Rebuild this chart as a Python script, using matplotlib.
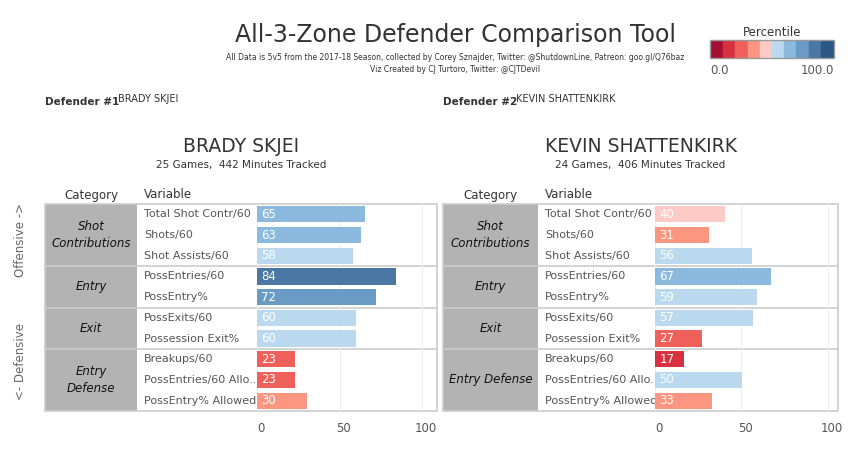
import numpy as np
import matplotlib.pyplot as plt
from matplotlib.patches import Rectangle

plt.rcParams["font.family"] = "DejaVu Sans"

variables = ["Total Shot Contr/60", "Shots/60", "Shot Assists/60", "PossEntries/60",
             "PossEntry%", "PossExits/60", "Possession Exit%", "Breakups/60",
             "PossEntries/60 Allo..", "PossEntry% Allowed"]
var_right_last = ["PossEntries/60 Allo..", "PossEntry% Allowed"]
categories = ["Shot\nContributions", "Entry", "Exit", "Entry\nDefense"]
categories_right = ["Shot\nContributions", "Entry", "Exit", "Entry Defense"]
group_sizes = [3, 2, 2, 3]
skjei = [65.2, 63.1, 58.4, 84.0, 72.0, 59.7, 59.7, 23.0, 23.0, 30.0]
shattenkirk = [40.3, 31.0, 56.0, 67.0, 59.0, 57.0, 27.0, 17.0, 50.2, 33.0]
bin_colors = ["#a50f33", "#d7303f", "#f0605a", "#fc9680", "#fdcac6",
              "#bad9ee", "#8cbade", "#6a9bc5", "#4a77a3", "#2c5783"]

W, H = 855, 459
fig = plt.figure(figsize=(W / 100, H / 100), dpi=100)
bg = fig.add_axes([0, 0, 1, 1])
bg.set_xlim(0, W)
bg.set_ylim(H, 0)
bg.axis("off")

txt = "#333333"
bg.text(455, 35, "All-3-Zone Defender Comparison Tool", ha="center", va="center", fontsize=17, color=txt)
bg.text(455, 57, "All Data is 5v5 from the 2017-18 Season, collected by Corey Sznajder, Twitter: @ShutdownLine, Patreon: goo.gl/Q76baz",
        ha="center", va="center", fontsize=5.5, color=txt)
bg.text(455, 69, "Viz Created by CJ Turtoro, Twitter: @CJTDevil", ha="center", va="center", fontsize=5.5, color=txt)

# legend
bg.text(772, 33, "Percentile", ha="center", va="center", fontsize=8.5, color=txt)
for i, c in enumerate(bin_colors):
    bg.add_patch(Rectangle((711 + i * 12.2, 41), 12.2, 16, color=c))
bg.add_patch(Rectangle((710, 40), 124, 18, fill=False, ec="#999999", lw=1))
bg.text(710, 70, "0.0", ha="left", va="center", fontsize=8.5, color="#555555")
bg.text(834, 70, "100.0", ha="right", va="center", fontsize=8.5, color="#555555")

bg.text(20, 240, "Offensive ->", rotation=90, ha="center", va="center", fontsize=8.5, color="#666666")
bg.text(20, 362, "<- Defensive", rotation=90, ha="center", va="center", fontsize=8.5, color="#666666")


def panel(x0, xc, xv, x1, name, sub, vals, cats, xmax, tick_x):
    y0, y1 = 204, 411
    rh = (y1 - y0) / len(vals)
    bg.text(x0, 102, "Defender #" + ("1" if x0 < 400 else "2"), fontsize=7.5, weight="bold", va="center", color=txt)
    bg.text(x0 + 73, 99, name, fontsize=7, va="center", color=txt)
    mid = (x0 + x1) / 2
    bg.text(mid, 146, name, ha="center", va="center", fontsize=13.5, color=txt)
    bg.text(mid, 165, sub, ha="center", va="center", fontsize=7.5, color=txt)
    bg.text((x0 + xc) / 2, 195, "Category", ha="center", va="center", fontsize=8.5, color=txt)
    bg.text(xc + 7, 195, "Variable", ha="left", va="center", fontsize=8.5, color=txt)
    bg.add_patch(Rectangle((x0, y0), xc - x0, y1 - y0, color="#b3b3b3", lw=0))
    bg.add_patch(Rectangle((x0, y0), x1 - x0, y1 - y0, fill=False, ec="#cccccc", lw=1.2))
    r = 0
    for cat, n in zip(cats, group_sizes):
        bg.text((x0 + xc) / 2, y0 + (r + n / 2) * rh, cat, ha="center", va="center",
                fontsize=8.5, style="italic", color="#111111", linespacing=1.4)
        r += n
        if r < len(vals):
            bg.plot([x0, x1], [y0 + r * rh] * 2, color="#cccccc", lw=1.2)
    for i, v in enumerate(variables[:8] + (var_right_last if x0 > 400 else variables[8:])):
        bg.text(xc + 7, y0 + (i + 0.5) * rh, v, ha="left", va="center", fontsize=8, color="#555555")
    ax = fig.add_axes([xv / W, 1 - y1 / H, (x1 - xv) / W, (y1 - y0) / H])
    ax.patch.set_alpha(0)
    ys = np.arange(len(vals))
    cols = [bin_colors[min(int(v // 10), 9)] for v in vals]
    ax.barh(ys, vals, height=0.78, color=cols, zorder=2)
    for y, v in zip(ys, vals):
        ax.text(2.5, y, f"{v:.0f}", va="center", ha="left", fontsize=8.5, color="white", zorder=3)
    ax.set_ylim(len(vals) - 0.5, -0.5)
    ax.set_xlim(0, xmax)
    ax.set_xticks([0, 50, 100])
    ax.grid(axis="x", color="#eeeeee", lw=0.8, zorder=0)
    for s in ax.spines.values():
        s.set_visible(False)
    ax.tick_params(left=False, labelleft=False, bottom=False, labelbottom=False)
    for t, lab in zip([0, 50, 100], ["0", "50", "100"]):
        bg.text(xv + t / xmax * (x1 - xv) + tick_x, 428, lab, ha="center", va="center", fontsize=8.5, color="#555555")


panel(45, 137, 257, 437, "BRADY SKJEI", "25 Games,  442 Minutes Tracked", skjei, categories, 109, 4)
panel(443, 538, 655, 838, "KEVIN SHATTENKIRK", "24 Games,  406 Minutes Tracked", shattenkirk, categories_right, 106, 4)

fig.savefig("out.png", dpi=100)
